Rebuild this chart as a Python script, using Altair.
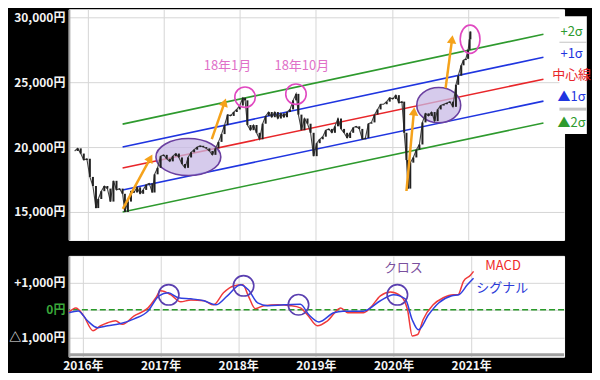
import altair as alt
import pandas as pd

# ---------------- data ----------------
price_years = [2015.83, 2015.87, 2015.91, 2015.95, 2015.99, 2016.03, 2016.07, 2016.11, 2016.14, 2016.18,
               2016.22, 2016.26, 2016.30, 2016.34, 2016.38, 2016.42, 2016.46, 2016.49, 2016.53, 2016.57,
               2016.61, 2016.65, 2016.69, 2016.73, 2016.77, 2016.81, 2016.85, 2016.88, 2016.92, 2016.96,
               2017.00, 2017.04, 2017.08, 2017.12, 2017.16, 2017.20, 2017.24, 2017.28, 2017.32, 2017.36,
               2017.40, 2017.44, 2017.48, 2017.52, 2017.56, 2017.60, 2017.64, 2017.68, 2017.72, 2017.76,
               2017.80, 2017.84, 2017.88, 2017.92, 2017.96, 2018.00, 2018.04, 2018.07, 2018.10, 2018.14,
               2018.18, 2018.22, 2018.26, 2018.30, 2018.34, 2018.38, 2018.42, 2018.46, 2018.50, 2018.54,
               2018.58, 2018.62, 2018.66, 2018.70, 2018.74, 2018.77, 2018.81, 2018.85, 2018.89, 2018.93,
               2018.97, 2019.01, 2019.05, 2019.09, 2019.13, 2019.17, 2019.21, 2019.25, 2019.29, 2019.33,
               2019.37, 2019.41, 2019.45, 2019.49, 2019.53, 2019.57, 2019.61, 2019.65, 2019.69, 2019.73,
               2019.77, 2019.81, 2019.85, 2019.89, 2019.93, 2019.97, 2020.01, 2020.05, 2020.09, 2020.13,
               2020.16, 2020.19, 2020.21, 2020.24, 2020.28, 2020.32, 2020.36, 2020.40, 2020.44, 2020.48,
               2020.52, 2020.56, 2020.60, 2020.64, 2020.68, 2020.72, 2020.76, 2020.80, 2020.84, 2020.87,
               2020.91, 2020.94, 2020.97, 2021.00, 2021.02, 2021.03]
price_close = [19700, 19900, 19500, 19000, 19100, 17700, 17000, 15300, 16000, 16600,
               17000, 16800, 15800, 17400, 16700, 16800, 16400, 15000, 15800, 16600,
               16500, 16900, 16400, 16700, 17100, 17200, 16500, 17900, 18400, 19300,
               19400, 19100, 18900, 19300, 19500, 19200, 18700, 18400, 19200, 19600,
               19800, 20000, 20100, 20000, 19900, 19700, 19400, 19900, 20400, 21000,
               21700, 22500, 22400, 22700, 22900, 23200, 23800, 23600, 21700, 21300,
               21700, 21100, 20600, 21800, 22400, 22700, 22300, 22700, 22200, 22600,
               22300, 22700, 22900, 23600, 24100, 22500, 21300, 22200, 21800, 21100,
               19300, 20300, 20600, 20800, 21300, 21400, 21100, 21600, 22200, 21400,
               21100, 20700, 21100, 21500, 21600, 21400, 20600, 20700, 21800, 21900,
               22500, 22900, 23300, 23300, 23500, 23800, 23700, 24000, 23400, 23500,
               21100, 19000, 16800, 18800, 19200, 19800, 20200, 21900, 22600, 22400,
               22700, 22000, 22900, 23200, 23300, 23400, 23500, 23100, 24800, 25500,
               26300, 26700, 26800, 27500, 28300, 28900]

macd_years = [2015.82, 2015.91, 2016.01, 2016.13, 2016.23, 2016.32, 2016.42, 2016.51, 2016.66, 2016.84,
              2016.94, 2017.00, 2017.13, 2017.26, 2017.39, 2017.56, 2017.68, 2017.81, 2017.94, 2018.06,
              2018.13, 2018.22, 2018.33, 2018.51, 2018.67, 2018.80, 2018.89, 2019.02, 2019.15, 2019.32,
              2019.41, 2019.61, 2019.70, 2019.83, 2019.96, 2020.09, 2020.18, 2020.24, 2020.31, 2020.38,
              2020.51, 2020.64, 2020.77, 2020.83, 2020.90, 2020.99, 2021.03]
macd_values = [-90, 70, -220, -760, -580, -470, -400, -530, -220, 70,
               440, 690, 550, 290, 360, 330, 180, 620, 870, 910,
               510, 40, 150, 180, 150, 70, -180, -580, -400, 70,
               -110, -110, 70, 510, 650, 510, 0, -950, -900, -360,
               180, 440, 550, 550, 1040, 1260, 1400]

signal_years = [2015.82, 2015.94, 2016.06, 2016.19, 2016.32, 2016.49, 2016.66, 2016.84, 2016.98, 2017.10,
                2017.23, 2017.39, 2017.56, 2017.71, 2017.86, 2018.03, 2018.13, 2018.25, 2018.38, 2018.59,
                2018.80, 2018.91, 2019.04, 2019.23, 2019.35, 2019.61, 2019.83, 2020.00, 2020.15, 2020.24,
                2020.32, 2020.45, 2020.58, 2020.75, 2020.84, 2020.95, 2021.03]
signal_values = [-110, -40, -400, -650, -580, -500, -330, -40, 510, 620,
                 440, 400, 330, 180, 510, 910, 730, 250, 150, 180,
                 200, -180, -440, -110, -50, -50, 330, 550, 400, -360,
                 -730, -180, 250, 510, 550, 910, 1150]

band_names = ["+2σ", "+1σ", "中心線", "▲1σ", "▲2σ"]
band_years = [2016.46, 2021.99]
band_start = [21770, 20000, 18385, 16690, 15000]
band_end = [28690, 26920, 25230, 23540, 21850]
band_colors = ["#2e9a2e", "#1f35e0", "#e8262a", "#1f35e0", "#2e9a2e"]
band_label_values = [28850, 27150, 25540, 23850, 21850]

year_ticks = [2016, 2017, 2018, 2019, 2020, 2021]
price_ticks = [15000, 20000, 25000, 30000]
macd_ticks = [-1000, 0, 1000]

# annotations (data coordinates)
arrow_start_years = [2016.463, 2017.632, 2020.190, 2020.704]
arrow_start_values = [15231, 20615, 16615, 24538]
arrow_head_years = [2016.825, 2017.800, 2020.288, 2020.789]
arrow_head_values = [19150, 23450, 22750, 28300]
arrow_angles = [29, 19, 5, 7]

ellipse_years = [2017.324, 2020.614]
ellipse_values = [19231, 23231]
ellipse_shapes = ["M -1 0 A 1 0.57 0 1 0 1 0 A 1 0.57 0 1 0 -1 0 Z",
                  "M -1 0 A 1 0.8 0 1 0 1 0 A 1 0.8 0 1 0 -1 0 Z"]
ellipse_sizes = [4225, 1936]

pink_years = [2018.069, 2018.738, 2021.026]
pink_values = [23846, 24077, 28308]
pink_shapes = ["circle", "circle", "M -0.7 0 A 0.7 1 0 1 0 0.7 0 A 0.7 1 0 1 0 -0.7 0 Z"]
pink_sizes = [420, 420, 800]

pink_texts = ["18年1月", "18年10月"]
pink_text_years = [2017.838, 2018.815]
pink_text_values = [26231, 26231]

cross_years = [2017.105, 2018.069, 2018.776, 2020.049]
cross_values = [545, 873, 182, 545]

macd_texts = ["クロス", "MACD", "シグナル"]
macd_text_years = [2020.126, 2021.41, 2021.40]
macd_text_values = [1527, 1600, 800]
macd_text_colors = ["#7a4f9e", "#ee2a2a", "#2a3ad8"]

series_names = ["MACD", "シグナル"]
series_colors = ["#f03a3a", "#3040e0"]

# ---------------- scales / axes ----------------
X_DOMAIN = [2015.82, 2022.195]
x_scale = alt.Scale(domain=X_DOMAIN, nice=False, zero=False)
ytop_scale = alt.Scale(domain=[12846, 30615], nice=False, zero=False)
ybot_scale = alt.Scale(domain=[-1709, 1964], nice=False, zero=False)
FONT = "Noto Sans CJK JP"

top_x_axis = alt.Axis(values=year_ticks, labels=False, ticks=False, domain=False,
                      grid=True, title=None)
top_y_axis = alt.Axis(values=price_ticks, labelExpr="format(datum.value, ',') + '円'",
                      grid=True, title=None, ticks=False, domain=True,
                      domainColor="#a8a8a8", domainWidth=2, minExtent=60, maxExtent=60,
                      labelPadding=4)
bot_x_axis = alt.Axis(values=year_ticks, labelExpr="datum.value + '年'", grid=True,
                      ticks=False, domain=False, title=None, labelPadding=4)
bot_y_axis = alt.Axis(values=macd_ticks,
                      labelExpr="datum.value > 0 ? '+' + format(datum.value, ',') + '円' : (datum.value < 0 ? '△' + format(-datum.value, ',') + '円' : '0円')",
                      labelColor={"condition": {"test": "datum.value === 0", "value": "#3aa83a"},
                                  "value": "#f4f4f4"},
                      grid=True, title=None, ticks=False, domain=True,
                      domainColor="#a8a8a8", domainWidth=2, minExtent=60, maxExtent=60,
                      labelPadding=4)

XT = alt.X("year:Q", scale=x_scale, axis=top_x_axis)
YT = alt.Y("value:Q", scale=ytop_scale, axis=top_y_axis)
XB = alt.X("year:Q", scale=x_scale, axis=bot_x_axis)
YB = alt.Y("value:Q", scale=ybot_scale, axis=bot_y_axis)

# ---------------- top panel ----------------
band_rows = []
for n, s, e, c in zip(band_names, band_start, band_end, band_colors):
    band_rows.append({"name": n, "c": c, "year": band_years[0], "value": s})
    band_rows.append({"name": n, "c": c, "year": band_years[1], "value": e})
band_df = pd.DataFrame(band_rows)

bands = alt.Chart(band_df).mark_line(strokeWidth=1.6).encode(
    x=XT, y=YT, color=alt.Color("c:N", scale=None), detail="name:N")

ell_df = pd.DataFrame({"year": ellipse_years, "value": ellipse_values,
                       "shape": ellipse_shapes, "size": ellipse_sizes})
ellipses = alt.Chart(ell_df).mark_point(filled=True, fill="#c8b9e6", fillOpacity=0.75,
                                        stroke="#6a3fa0", strokeWidth=1.6, opacity=1).encode(
    x=XT, y=YT, shape=alt.Shape("shape:N", scale=None), size=alt.Size("size:Q", scale=None))

opens = [price_close[0]] + price_close[:-1]
candle_df = pd.DataFrame({"year": price_years, "value": opens, "value2": price_close})
candles = alt.Chart(candle_df).mark_bar(width=2.0, color="#222222").encode(
    x=XT, y=YT, y2="value2:Q")
price_line = alt.Chart(candle_df).mark_line(color="#444444", strokeWidth=1.1).encode(
    x=XT, y=alt.Y("value2:Q", scale=ytop_scale, axis=top_y_axis))

arrow_df = pd.DataFrame({"year": arrow_start_years, "value": arrow_start_values,
                         "year2": arrow_head_years, "value2": arrow_head_values,
                         "angle": arrow_angles})
arrow_lines = alt.Chart(arrow_df).mark_rule(color="#f5a21b", strokeWidth=2.5).encode(
    x=XT, y=YT, x2="year2:Q", y2="value2:Q")
arrow_heads = alt.Chart(arrow_df).mark_point(shape="triangle-up", filled=True,
                                             color="#f5a21b", size=90, opacity=1).encode(
    x=alt.X("year2:Q", scale=x_scale, axis=top_x_axis),
    y=alt.Y("value2:Q", scale=ytop_scale, axis=top_y_axis),
    angle=alt.Angle("angle:Q", scale=None))

pink_df = pd.DataFrame({"year": pink_years, "value": pink_values,
                        "shape": pink_shapes, "size": pink_sizes})
pinks = alt.Chart(pink_df).mark_point(filled=False, stroke="#e048c0", strokeWidth=1.6,
                                      opacity=1).encode(
    x=XT, y=YT, shape=alt.Shape("shape:N", scale=None), size=alt.Size("size:Q", scale=None))

ptext_df = pd.DataFrame({"year": pink_text_years, "value": pink_text_values, "t": pink_texts})
ptexts = alt.Chart(ptext_df).mark_text(color="#e070c8", fontSize=13, font=FONT).encode(
    x=XT, y=YT, text="t:N")

# right-hand labels with white boxes
box_df = pd.DataFrame({"year": [2022.2], "year2": [2022.56], "value": [30077], "value2": [21000]})
box = alt.Chart(box_df).mark_rect(color="white").encode(
    x=XT, x2="year2:Q", y=YT, y2="value2:Q")
sep_df = pd.DataFrame({"year": [2022.2, 2022.2], "year2": [2022.56, 2022.56],
                       "value": [28077, 22923], "w": [1, 3]})
seps = alt.Chart(sep_df).mark_rule(color="#c4c4c4").encode(
    x=XT, x2="year2:Q", y=YT, strokeWidth=alt.StrokeWidth("w:Q", scale=None))
lab_df = pd.DataFrame({"year": [2022.36] * 5, "value": band_label_values,
                       "t": band_names, "c": band_colors})
labels = alt.Chart(lab_df).mark_text(fontSize=13, font=FONT).encode(
    x=XT, y=YT, text="t:N", color=alt.Color("c:N", scale=None))

top = alt.layer(bands, ellipses, price_line, candles, arrow_lines, arrow_heads, pinks, ptexts,
                box, seps, labels).properties(width=496, height=231)

# ---------------- bottom panel ----------------
zero_df = pd.DataFrame({"value": [0]})
zero = alt.Chart(zero_df).mark_rule(color="#2a9a2a", strokeWidth=1.6, strokeDash=[6, 3]).encode(y=YB)

line_df = pd.concat([
    pd.DataFrame({"year": macd_years, "value": macd_values, "s": series_names[0], "c": series_colors[0]}),
    pd.DataFrame({"year": signal_years, "value": signal_values, "s": series_names[1], "c": series_colors[1]}),
])
lines = alt.Chart(line_df).mark_line(strokeWidth=1.5, interpolate="monotone").encode(
    x=XB, y=YB, color=alt.Color("c:N", scale=None), detail="s:N")

cross_df = pd.DataFrame({"year": cross_years, "value": cross_values})
crosses = alt.Chart(cross_df).mark_point(shape="circle", filled=False, stroke="#5a3fb0",
                                         strokeWidth=1.6, size=420, opacity=1).encode(x=XB, y=YB)

mtext_df = pd.DataFrame({"year": macd_text_years, "value": macd_text_values,
                         "t": macd_texts, "c": macd_text_colors})
mtexts = alt.Chart(mtext_df).mark_text(fontSize=13, font=FONT).encode(
    x=XB, y=YB, text="t:N", color=alt.Color("c:N", scale=None))

base_df = pd.DataFrame({"value": [-1636]})
baseline = alt.Chart(base_df).mark_rule(color="#a0a0a0", strokeWidth=3).encode(y=YB)

bottom = alt.layer(zero, lines, crosses, mtexts, baseline).properties(width=496, height=101)

chart = alt.vconcat(top, bottom, spacing=14).properties(
    background="black", padding=0
).configure_view(fill="white", stroke="white").configure_axis(
    labelFont=FONT, labelFontWeight="bold", labelFontSize=12, labelColor="#f4f4f4",
    gridColor="#d6d6d6", gridWidth=1
)

chart.save("out.html", embed_options={"renderer": "svg", "actions": False})
